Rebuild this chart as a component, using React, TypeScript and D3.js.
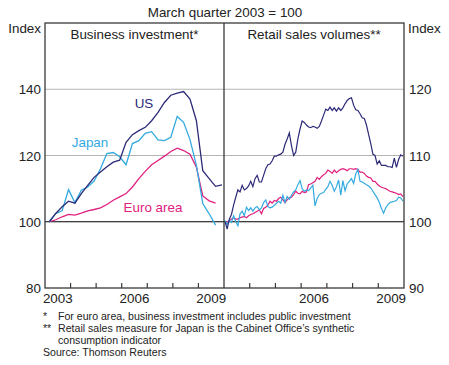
import React from "react";
import * as d3 from "d3";

// ---- Data ----
// Business investment, quarterly from March quarter 2003 (index, Mar qtr 2003 = 100)
const biUS = [100, 102.5, 104.5, 106.2, 105.6, 108.5, 111, 113.4, 115, 116.6, 118, 118.6, 124, 126.3, 127.5, 128.5, 130.5, 133, 136, 138.2, 138.8, 139.3, 137, 130.5, 115.4, 113, 110.7, 111.1];
const biJapan = [100, 102.5, 103.3, 109.7, 105.8, 109.5, 110.5, 112.3, 116, 120.6, 120.9, 119.6, 117.2, 123.6, 124.5, 126.7, 127.2, 124.7, 124.5, 125.5, 131.8, 130, 124.8, 117, 105.5, 102.4, 99.0];
const biEuro = [100, 100.6, 101.5, 102.2, 102, 102.6, 103.3, 103.7, 104.2, 105.2, 106.5, 107.5, 108.5, 110.5, 113, 115.2, 117.2, 118.5, 119.8, 121.2, 122.2, 121.5, 120.4, 116.5, 107.8, 106.3, 105.6];

// Retail sales volumes, monthly from January 2003
const rsUS = [100.0, 98.9, 100.4, 101.1, 102.5, 103.7, 104.8, 104.5, 105.5, 104.8, 105.0, 105.4, 106.1, 105.3, 106.5, 107.0, 106.0, 106.0, 107.0, 108.0, 108.6, 108.7, 109.2, 109.9, 109.9, 110.1, 110.2, 110.5, 111.7, 112.5, 113.4, 111.5, 110.0, 110.5, 112.5, 114.0, 115.2, 115.0, 114.6, 114.3, 114.2, 114.4, 114.3, 114.1, 114.4, 115.2, 116.1, 117.0, 116.8, 117.3, 116.8, 117.2, 116.7, 117.2, 116.8, 117.2, 117.8, 118.3, 118.6, 118.7, 117.6, 116.9, 116.8, 116.3, 115.7, 115.6, 114.6, 113.2, 111.8, 110.2, 110.0, 108.7, 109.2, 108.5, 108.5, 108.5, 108.3, 108.3, 108.2, 109.6, 108.2, 109.4, 110.1, 109.9];
const rsJapan = [100.2, 99.6, 100.2, 99.9, 100.9, 100.0, 99.4, 101.2, 101.6, 100.9, 102.2, 101.7, 102.1, 101.6, 102.1, 102.3, 101.8, 102.1, 102.9, 103.3, 102.3, 102.1, 102.2, 102.5, 102.8, 103.1, 102.8, 104.0, 102.9, 103.8, 103.4, 104.0, 104.5, 104.8, 105.6, 106.2, 105.0, 104.6, 104.8, 104.7, 105.1, 105.5, 102.4, 103.5, 104.1, 104.3, 104.4, 104.9, 105.3, 106.1, 105.5, 104.6, 105.3, 106.3, 104.0, 106.2, 104.7, 105.7, 106.1, 106.5, 105.8, 107.2, 107.9, 106.1, 106.0, 105.8, 105.6, 105.4, 105.1, 104.6, 104.1, 103.6, 102.9, 102.0, 101.3, 102.1, 102.6, 102.9, 103.0, 103.1, 103.2, 103.7, 103.6, 103.1];
const rsEuro = [100.0, 100.0, 100.2, 100.4, 100.6, 100.4, 100.4, 100.6, 100.7, 100.8, 100.6, 100.9, 101.1, 101.2, 101.4, 101.6, 101.8, 101.2, 102.0, 102.2, 102.5, 103.1, 102.8, 103.2, 103.1, 103.5, 103.7, 103.3, 102.9, 103.3, 103.6, 103.7, 104.1, 104.6, 104.3, 104.2, 104.6, 104.4, 104.5, 105.6, 105.7, 105.9, 106.1, 106.7, 106.4, 106.8, 107.1, 107.3, 107.8, 107.6, 107.3, 107.8, 107.4, 107.7, 107.9, 108.0, 107.9, 107.7, 108.0, 108.0, 107.9, 108.0, 107.9, 107.5, 107.5, 107.3, 106.9, 106.7, 106.6, 106.1, 106.1, 105.7, 105.4, 105.2, 105.1, 105.0, 104.8, 104.6, 104.5, 104.4, 104.3, 104.1, 104.2, 103.8];

const leftTicks = [80, 100, 120, 140];
const rightTicks = [90, 100, 110, 120];
const yearLabels = [2003, 2006, 2009];
const yearTicks = [2004, 2005, 2006, 2007, 2008, 2009];

const C_US = "#2d2a78";
const C_JP = "#33aadf";
const C_EU = "#e0207f";
const FONT = "'Liberation Sans', Arial, sans-serif";

const qDate = (i: number) => 2003 + i * 0.25 + 0.17;
const mDate = (i: number) => 2003 + i / 12 + 0.04;

export default function App() {
  const W = 449, H = 365;
  const top = 23, bottom = 288, left = 45, mid = 224, right = 404;

  const xL = d3.scaleLinear().domain([2003, 2010]).range([left, mid]);
  const xR = d3.scaleLinear().domain([2003, 2010]).range([mid, right]);
  const yL = d3.scaleLinear().domain([80, 160]).range([bottom, top]);
  const yR = d3.scaleLinear().domain([90, 130]).range([bottom, top]);

  const lineQ = d3.line<number>().x((_, i) => xL(qDate(i))).y((d) => yL(d));
  const lineM = d3.line<number>().x((_, i) => xR(mDate(i))).y((d) => yR(d));

  const frame = "#3a3a3a";
  const fs = 13.4;

  return (
    <svg width={W} height={H} style={{ position: "absolute", left: 0, top: 0 }} fontFamily={FONT}>
      <rect width={W} height={H} fill="#fff" />
      <text x={225} y={17} textAnchor="middle" fontSize={fs} fill="#222">March quarter 2003 = 100</text>

      {/* gridlines */}
      {[120, 140].map((v) => (
        <line key={"g" + v} x1={left} x2={right} y1={yL(v)} y2={yL(v)} stroke="#b5b5b5" strokeWidth={1} />
      ))}
      <line x1={left} x2={right} y1={yL(100)} y2={yL(100)} stroke="#000" strokeWidth={1.2} />

      {/* series */}
      <path d={lineQ(biEuro) || ""} fill="none" stroke={C_EU} strokeWidth={1.3} />
      <path d={lineQ(biJapan) || ""} fill="none" stroke={C_JP} strokeWidth={1.3} />
      <path d={lineQ(biUS) || ""} fill="none" stroke={C_US} strokeWidth={1.3} />
      <path d={lineM(rsEuro) || ""} fill="none" stroke={C_EU} strokeWidth={1.2} />
      <path d={lineM(rsJapan) || ""} fill="none" stroke={C_JP} strokeWidth={1.2} />
      <path d={lineM(rsUS) || ""} fill="none" stroke={C_US} strokeWidth={1.2} />

      {/* frame */}
      <rect x={left} y={top} width={right - left} height={bottom - top} fill="none" stroke={frame} strokeWidth={1.3} />
      <line x1={mid} x2={mid} y1={top} y2={bottom} stroke={frame} strokeWidth={1.3} />

      {/* x ticks */}
      {yearTicks.map((t) => (
        <g key={"t" + t}>
          <line x1={xL(t)} x2={xL(t)} y1={bottom} y2={bottom - 5} stroke={frame} strokeWidth={1.2} />
          <line x1={xR(t)} x2={xR(t)} y1={bottom} y2={bottom - 5} stroke={frame} strokeWidth={1.2} />
        </g>
      ))}
      {yearLabels.map((t) => (
        <g key={"yl" + t}>
          <text x={xL(t + 0.5)} y={303} textAnchor="middle" fontSize={fs} fill="#222">{t}</text>
          {t !== 2003 && (
            <text x={xR(t + 0.5)} y={303} textAnchor="middle" fontSize={fs} fill="#222">{t}</text>
          )}
        </g>
      ))}

      {/* y labels */}
      {leftTicks.map((v) => (
        <text key={"l" + v} x={41} y={yL(v) + 5} textAnchor="end" fontSize={fs} fill="#222">{v}</text>
      ))}
      {rightTicks.map((v) => (
        <text key={"r" + v} x={409} y={yR(v) + 5} textAnchor="start" fontSize={fs} fill="#222">{v}</text>
      ))}
      <text x={41} y={33} textAnchor="end" fontSize={fs} fill="#222">Index</text>
      <text x={408} y={33} textAnchor="start" fontSize={fs} fill="#222">Index</text>

      {/* panel titles */}
      <text x={xL(2006.5)} y={38.5} textAnchor="middle" fontSize={fs} fill="#222">Business investment*</text>
      <text x={xR(2006.5)} y={38.5} textAnchor="middle" fontSize={fs} fill="#222">Retail sales volumes**</text>

      {/* series labels */}
      <text x={144} y={108} textAnchor="middle" fontSize={fs} fill={C_US}>US</text>
      <text x={90} y={147} textAnchor="middle" fontSize={fs} fill={C_JP}>Japan</text>
      <text x={153} y={212} textAnchor="middle" fontSize={fs} fill={C_EU}>Euro area</text>

      {/* footnotes */}
      <g fontSize={10.6} fill="#222">
        <text x={43} y={320}>*</text>
        <text x={58} y={320}>For euro area, business investment includes public investment</text>
        <text x={43} y={332}>**</text>
        <text x={58} y={332}>Retail sales measure for Japan is the Cabinet Office’s synthetic</text>
        <text x={58} y={344}>consumption indicator</text>
        <text x={43} y={356}>Source: Thomson Reuters</text>
      </g>
    </svg>
  );
}
